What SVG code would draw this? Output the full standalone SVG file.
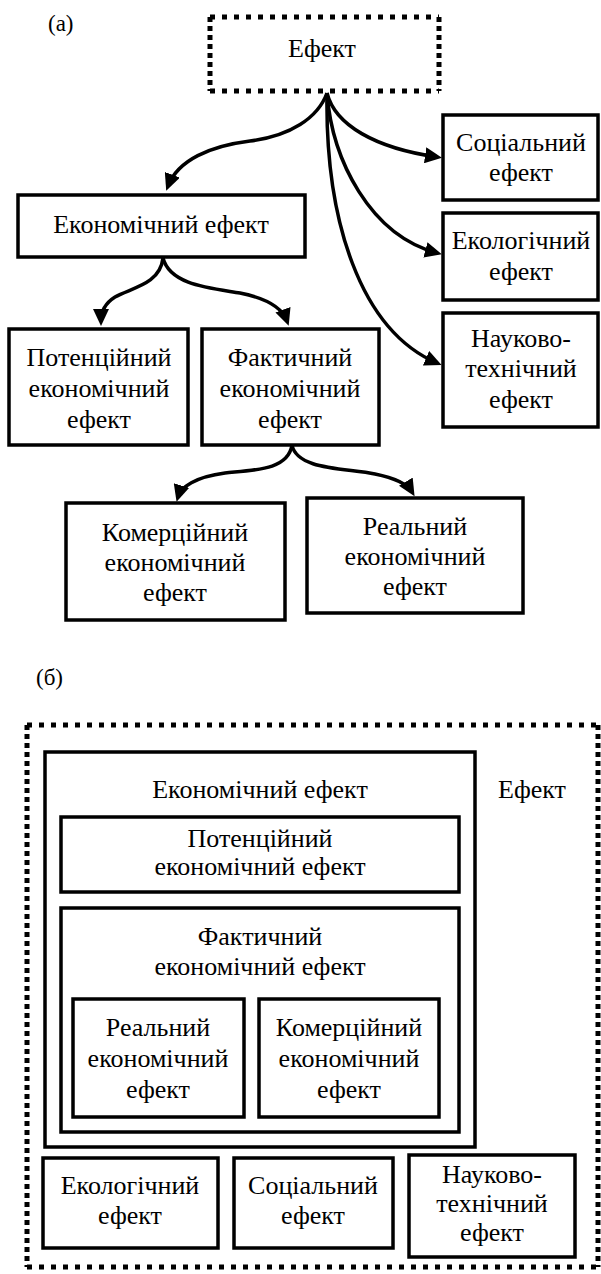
<svg xmlns="http://www.w3.org/2000/svg" width="601" height="1274" viewBox="0 0 601 1274" font-family="'Liberation Serif', 'Times New Roman', 'DejaVu Serif', serif">
<style>
text{font-family:'Liberation Serif','Times New Roman','DejaVu Serif',serif;font-size:26px;fill:#000;text-anchor:middle}
.lbl{font-size:23px;text-anchor:start}
.box{fill:#fff;stroke:#000;stroke-width:3.5}
.dh{fill:none;stroke:#000;stroke-width:5;stroke-dasharray:5 7}
.dv{fill:none;stroke:#000;stroke-width:5;stroke-dasharray:5 4}
.arr{fill:none;stroke:#000;stroke-width:3.5;marker-end:url(#ah)}
</style>
<defs>
<marker id="ah" markerUnits="userSpaceOnUse" markerWidth="18" markerHeight="16" refX="12" refY="8" orient="auto">
<path d="M0,0 L17,8 L0,16 z" fill="#000"/>
</marker>
</defs>
<rect width="601" height="1274" fill="#fff"/>

<text class="lbl" x="48" y="31">(а)</text>

<g id="connectors">
<path class="arr" d="M327,93 C318,118 290,136 250,141 C210,146 178,160 168,186"/>
<path class="arr" d="M327,93 C335,125 375,148 437,157"/>
<path class="arr" d="M327,93 C332,160 370,235 437,253"/>
<path class="arr" d="M327,93 C325,220 360,330 437,363"/>
<path class="arr" d="M163,258 C160,285 130,288 115,297 C104,304 101,313 101,321"/>
<path class="arr" d="M163,258 C170,285 210,288 240,293 C265,298 282,307 287,321"/>
<path class="arr" d="M292,445 C288,470 255,470 225,473 C195,477 181,487 178,497"/>
<path class="arr" d="M292,445 C297,470 345,468 375,474 C400,479 409,487 412,492"/>
</g>

<g id="a-effect">
<path class="dh" d="M210,17 H439 M210,91 H439"/>
<path class="dv" d="M210,17 V91 M439,17 V91"/>
<text x="322" y="57">Ефект</text>
</g>

<g id="a-economic">
<rect class="box" x="18" y="195" width="287" height="62"/>
<text x="161" y="233">Економічний ефект</text>
</g>

<g id="a-social">
<rect class="box" x="443" y="115" width="155" height="85"/>
<text x="521" y="151">Соціальний</text>
<text x="521" y="181">ефект</text>
</g>

<g id="a-ecological">
<rect class="box" x="443" y="213" width="155" height="87"/>
<text x="521" y="249">Екологічний</text>
<text x="521" y="280">ефект</text>
</g>

<g id="a-scitech">
<rect class="box" x="443" y="313" width="155" height="114"/>
<text x="521" y="347">Науково-</text>
<text x="521" y="377">технічний</text>
<text x="521" y="408">ефект</text>
</g>

<g id="a-potential">
<rect class="box" x="9" y="329" width="179" height="116"/>
<text x="99" y="366">Потенційний</text>
<text x="99" y="397">економічний</text>
<text x="99" y="428">ефект</text>
</g>

<g id="a-actual">
<rect class="box" x="202" y="329" width="177" height="116"/>
<text x="290" y="366">Фактичний</text>
<text x="290" y="397">економічний</text>
<text x="290" y="428">ефект</text>
</g>

<g id="a-commercial">
<rect class="box" x="66" y="503" width="219" height="117"/>
<text x="175" y="541">Комерційний</text>
<text x="175" y="571">економічний</text>
<text x="175" y="601">ефект</text>
</g>

<g id="a-real">
<rect class="box" x="307" y="498" width="216" height="115"/>
<text x="415" y="535">Реальний</text>
<text x="415" y="565">економічний</text>
<text x="415" y="595">ефект</text>
</g>

<text class="lbl" x="36" y="685">(б)</text>

<g id="b-effect">
<path class="dh" d="M27,725 H598 M27,1267 H598"/>
<path class="dv" d="M27,725 V1267 M598,725 V1267"/>
<text x="532" y="798">Ефект</text>
</g>

<g id="b-economic">
<rect class="box" x="45" y="752" width="430" height="395"/>
<text x="260" y="798">Економічний ефект</text>
</g>

<g id="b-potential">
<rect class="box" x="61" y="817" width="398" height="75"/>
<text x="260" y="847">Потенційний</text>
<text x="260" y="875">економічний ефект</text>
</g>

<g id="b-actual">
<rect class="box" x="61" y="908" width="398" height="224"/>
<text x="260" y="945">Фактичний</text>
<text x="260" y="975">економічний ефект</text>
</g>

<g id="b-real">
<rect class="box" x="73" y="999" width="171" height="118"/>
<text x="158" y="1036">Реальний</text>
<text x="158" y="1067">економічний</text>
<text x="158" y="1098">ефект</text>
</g>

<g id="b-commercial">
<rect class="box" x="259" y="999" width="180" height="118"/>
<text x="349" y="1036">Комерційний</text>
<text x="349" y="1067">економічний</text>
<text x="349" y="1098">ефект</text>
</g>

<g id="b-ecological">
<rect class="box" x="43" y="1158" width="175" height="90"/>
<text x="130" y="1194">Екологічний</text>
<text x="130" y="1224">ефект</text>
</g>

<g id="b-social">
<rect class="box" x="234" y="1158" width="159" height="90"/>
<text x="313" y="1194">Соціальний</text>
<text x="313" y="1224">ефект</text>
</g>

<g id="b-scitech">
<rect class="box" x="409" y="1155" width="166" height="102"/>
<text x="492" y="1183">Науково-</text>
<text x="492" y="1212">технічний</text>
<text x="492" y="1241">ефект</text>
</g>
</svg>
